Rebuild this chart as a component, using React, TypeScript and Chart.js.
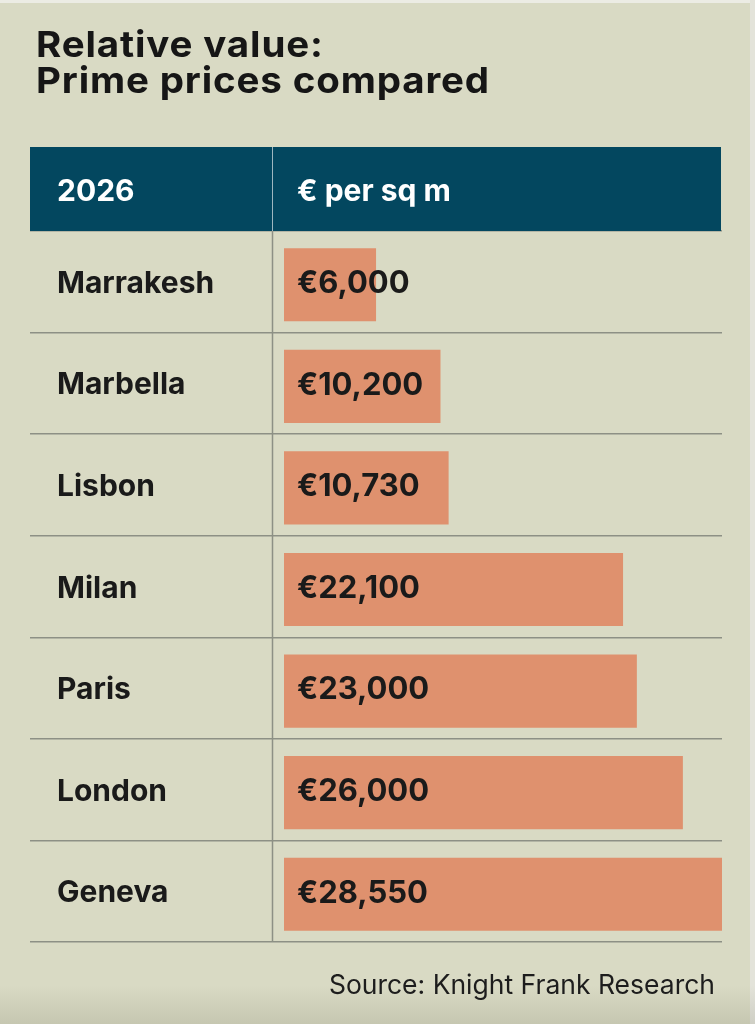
import { useEffect, useRef } from "react";
import { Chart, registerables } from "chart.js";

Chart.register(...registerables);

// Prime residential prices, € per square metre, 2026
const cities = ["Marrakesh", "Marbella", "Lisbon", "Milan", "Paris", "London", "Geneva"];
const pricesPerSqM = [6000, 10200, 10730, 22100, 23000, 26000, 28550];
const headerLabels = ["2026", "€ per sq m"];
const titleLines = ["Relative value:", "Prime prices compared"];
const sourceNote = "Source: Knight Frank Research";

const FONT = "Inter, 'Liberation Sans', Arial, sans-serif";
const BG = "#d9dac4";
const HEADER_BG = "#03475f";
const BAR = "#df916e";
const RULE = "#8d9085";
const INK = "#1a1a1a";
const BAR_DROP = 3; // bars sit slightly below the middle of each row

const formatEuro = (v: number) => "€" + v.toLocaleString("en-US");

// Nudges the bars down a little inside their rows
const barNudgePlugin = {
  id: "barNudge",
  beforeDatasetsDraw(chart: any) {
    chart.ctx.save();
    chart.ctx.translate(0, BAR_DROP);
  },
  afterDatasetsDraw(chart: any) {
    chart.ctx.restore();
  },
};

// Table frame: header band, column divider and the value labels inside bars
const tablePlugin = {
  id: "priceTable",
  afterDraw(chart: any) {
    const { ctx, chartArea } = chart;
    const left = 30;
    const right = 721;
    const headerTop = 147;
    const headerBottom = chartArea.top;
    const dividerX = 272;

    ctx.save();
    // header band
    ctx.fillStyle = HEADER_BG;
    ctx.fillRect(left, headerTop, right - left, headerBottom - headerTop);

    // column divider
    ctx.strokeStyle = "#9fb7c0";
    ctx.lineWidth = 1;
    ctx.beginPath();
    ctx.moveTo(dividerX + 0.5, headerTop);
    ctx.lineTo(dividerX + 0.5, headerBottom);
    ctx.stroke();
    ctx.strokeStyle = RULE;
    ctx.lineWidth = 1.5;
    ctx.beginPath();
    ctx.moveTo(dividerX + 0.5, headerBottom);
    ctx.lineTo(dividerX + 0.5, chartArea.bottom);
    ctx.stroke();

    // header text
    ctx.fillStyle = "#ffffff";
    ctx.font = `bold 30px ${FONT}`;
    ctx.textBaseline = "alphabetic";
    ctx.textAlign = "left";
    ctx.fillText(headerLabels[0], 57, 201);
    ctx.fillText(headerLabels[1], 297, 201);

    // value labels
    const meta = chart.getDatasetMeta(0);
    ctx.fillStyle = INK;
    ctx.font = `bold 31px ${FONT}`;
    ctx.textBaseline = "middle";
    meta.data.forEach((bar: any, i: number) => {
      ctx.fillText(formatEuro(pricesPerSqM[i]), chartArea.left + 13, bar.y + 2);
    });
    ctx.restore();
  },
};

export default function App() {
  const canvasRef = useRef<HTMLCanvasElement | null>(null);

  useEffect(() => {
    if (!canvasRef.current) return;
    const chart = new Chart(canvasRef.current, {
      type: "bar",
      data: {
        labels: cities,
        datasets: [
          {
            data: pricesPerSqM,
            backgroundColor: BAR,
            borderWidth: 0,
            categoryPercentage: 1,
            barPercentage: 0.72,
          },
        ],
      },
      options: {
        indexAxis: "y",
        responsive: false,
        animation: false,
        layout: { padding: { top: 231, bottom: 82, left: 57, right: 33 } },
        plugins: { legend: { display: false }, tooltip: { enabled: false }, title: { display: false } },
        scales: {
          x: { display: false, min: 0, max: 28550 },
          y: {
            position: "left",
            border: { display: false },
            grid: {
              offset: true,
              color: RULE,
              lineWidth: 1.5,
              drawTicks: true,
              tickLength: 254,
              tickColor: RULE,
            },
            ticks: {
              crossAlign: "far",
              padding: 0,
              labelOffset: 2,
              color: INK,
              font: { family: FONT, size: 30, weight: "bold" },
              autoSkip: false,
            },
            afterFit: (scale: any) => {
              scale.width = 227;
            },
          },
        },
      },
      plugins: [barNudgePlugin, tablePlugin],
    });
    return () => chart.destroy();
  }, []);

  return (
    <div
      style={{
        position: "absolute",
        left: 0,
        top: 0,
        width: 755,
        height: 1024,
        background: BG,
        overflow: "hidden",
        fontFamily: FONT,
      }}
    >
      <div style={{ position: "absolute", left: 0, top: 0, width: 755, height: 3, background: "#ececE4" }} />
      <div style={{ position: "absolute", right: 0, top: 0, width: 5, height: 1024, background: "#e3e3da" }} />
      <div
        style={{
          position: "absolute",
          left: 0,
          top: 985,
          width: 755,
          height: 39,
          background: "linear-gradient(to bottom, rgba(0,0,0,0), rgba(60,60,40,0.12))",
        }}
      />
      <canvas ref={canvasRef} width={755} height={1024} style={{ position: "absolute", left: 0, top: 0, width: 755, height: 1024 }} />
      <div
        style={{
          position: "absolute",
          left: 36,
          top: 26,
          fontSize: 36,
          lineHeight: "36px",
          fontWeight: 700,
          color: "#161616",
          letterSpacing: "0.8px",
          transform: "scaleX(1.07)",
          transformOrigin: "left top",
          whiteSpace: "nowrap",
        }}
      >
        {titleLines.map((t) => (
          <div key={t}>{t}</div>
        ))}
      </div>
      <div
        style={{
          position: "absolute",
          right: 40,
          top: 969,
          fontSize: 26.5,
          lineHeight: "30px",
          fontWeight: 400,
          color: "#1d1d1d",
          whiteSpace: "nowrap",
        }}
      >
        {sourceNote}
      </div>
    </div>
  );
}
